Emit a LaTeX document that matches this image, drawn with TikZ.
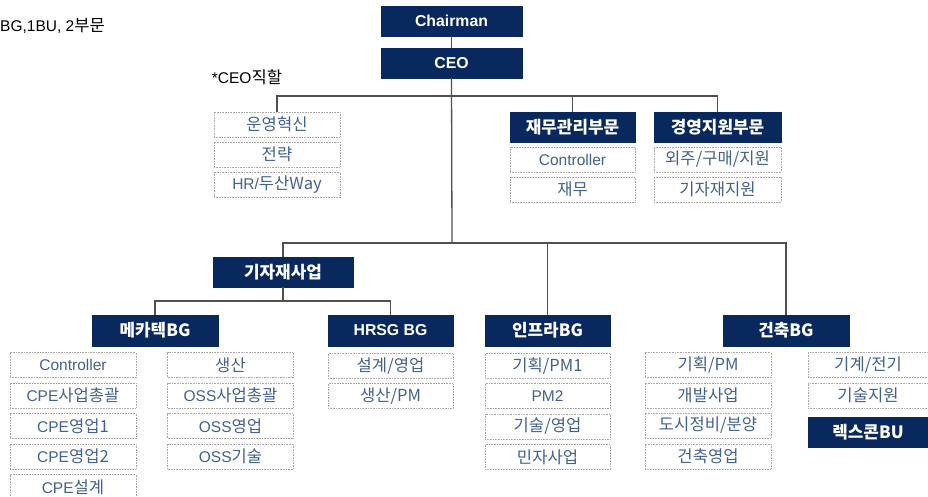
\documentclass[tikz,border=0pt]{standalone}
\usepackage{fontspec}
\setmainfont{Liberation Sans}
\newfontfamily\kr[Scale=1.07]{Noto Sans CJK KR}
\definecolor{navy}{RGB}{8,40,94}
\definecolor{subtxt}{RGB}{68,98,142}
\definecolor{subbrd}{RGB}{170,170,170}
\definecolor{conn}{RGB}{80,80,80}
\begin{document}
\begin{tikzpicture}[x=1pt,y=-1pt,
  dark/.style={fill=navy,draw=navy,text=white,inner sep=0pt,minimum height=30pt,
    font=\fontsize{15.8}{16}\selectfont\bfseries},
  sub/.style={draw=subbrd,densely dotted,line width=0.6pt,text=subtxt,inner sep=0pt,
    minimum width=126pt,minimum height=25pt,font=\fontsize{15.5}{16}\selectfont},
  plain/.style={inner sep=0pt,font=\fontsize{15.5}{16}\selectfont},
  link/.style={draw=conn,line width=1.3pt}]
\useasboundingbox[fill=white] (0,0) rectangle (928,497);
% header texts
\node[plain,anchor=west] (hdr) at (0,26) {BG,1BU, 2\kr{부문}};
\node[plain] (ceonote) at (247,77) {*CEO\kr{직할}};
% top
\node[dark,minimum width=141pt] (chair) at (451.5,21) {Chairman};
\node[dark,minimum width=141pt] (ceo) at (451.5,63) {CEO};
% staff
\node[sub] (s1) at (277,124.5) {\kr 운영혁신};
\node[sub] (s2) at (277,154.5) {\kr 전략};
\node[sub] (s3) at (277,185) {HR/\kr{두산}Way};
% finance
\node[dark,minimum width=125pt] (fin) at (572.5,127) {\kr 재무관리부문};
\node[sub,minimum width=125pt] (f1) at (572.5,159.5) {Controller};
\node[sub,minimum width=125pt] (f2) at (572.5,189.5) {\kr 재무};
% management support
\node[dark,minimum width=127pt] (mgt) at (717.5,127) {\kr 경영지원부문};
\node[sub,minimum width=127pt] (m1) at (717.5,159.5) {\kr 외주/구매/지원};
\node[sub,minimum width=127pt] (m2) at (717.5,189.5) {\kr 기자재지원};
% equipment business
\node[dark,minimum width=140pt] (eq) at (283,272) {\kr 기자재사업};
% BGs
\node[dark,minimum width=126pt,minimum height=31pt] (mech) at (155,330.5) {\kr{메카텍}BG};
\node[dark,minimum width=125pt,minimum height=31pt] (hrsg) at (390.5,330.5) {HRSG BG};
\node[dark,minimum width=125pt,minimum height=31pt] (infra) at (547.5,330.5) {\kr{인프라}BG};
\node[dark,minimum width=126pt,minimum height=31pt] (arch) at (786,330.5) {\kr{건축}BG};
% mechatec columns
\node[sub] (a1) at (73,365) {Controller};
\node[sub] (a2) at (73,395.5) {CPE\kr{사업총괄}};
\node[sub] (a3) at (73,426) {CPE\kr{영업}1};
\node[sub] (a4) at (73,456.5) {CPE\kr{영업}2};
\node[sub] (a5) at (73,487) {CPE\kr{설계}};
\node[sub] (b1) at (230.5,365) {\kr 생산};
\node[sub] (b2) at (230.5,395.5) {OSS\kr{사업총괄}};
\node[sub] (b3) at (230.5,426) {OSS\kr{영업}};
\node[sub] (b4) at (230.5,456.5) {OSS\kr{기술}};
% HRSG
\node[sub,minimum width=125pt] (h1) at (390.5,366) {\kr 설계/영업};
\node[sub,minimum width=125pt] (h2) at (390.5,396) {\kr{생산}/PM};
% infra
\node[sub,minimum width=125pt] (i1) at (547.5,366) {\kr{기획}/PM1};
\node[sub,minimum width=125pt] (i2) at (547.5,396) {PM2};
\node[sub,minimum width=125pt] (i3) at (547.5,426.5) {\kr 기술/영업};
\node[sub,minimum width=125pt] (i4) at (547.5,457) {\kr 민자사업};
% architecture
\node[sub] (c1) at (708,365) {\kr{기획}/PM};
\node[sub] (c2) at (708,395.5) {\kr 개발사업};
\node[sub] (c3) at (708,425.5) {\kr 도시정비/분양};
\node[sub] (c4) at (708,456.5) {\kr 건축영업};
\node[sub,minimum width=120pt] (d1) at (868,365) {\kr 기계/전기};
\node[sub,minimum width=120pt] (d2) at (868,395.5) {\kr 기술지원};
\node[dark,minimum width=120pt] (rex) at (868,432) {\kr{렉스콘}BU};
% junctions
\coordinate (j1) at (452,96);
\coordinate (j2) at (452,243);
\coordinate (j3) at (283,301);
% connectors
\draw[link] (chair.south) -- (ceo.north);
\draw[link] (ceo.south) -- (j2);
\draw[link] (s1.north) |- (j1) -| (mgt.north);
\draw[link] (j1) -| (fin.north);
\draw[link] (eq.north) |- (j2) -| (arch.north);
\draw[link] (j2) -| (infra.north);
\draw[link] (eq.south) -- (j3);
\draw[link] (mech.north) |- (j3) -| (hrsg.north);
\end{tikzpicture}
\end{document}
